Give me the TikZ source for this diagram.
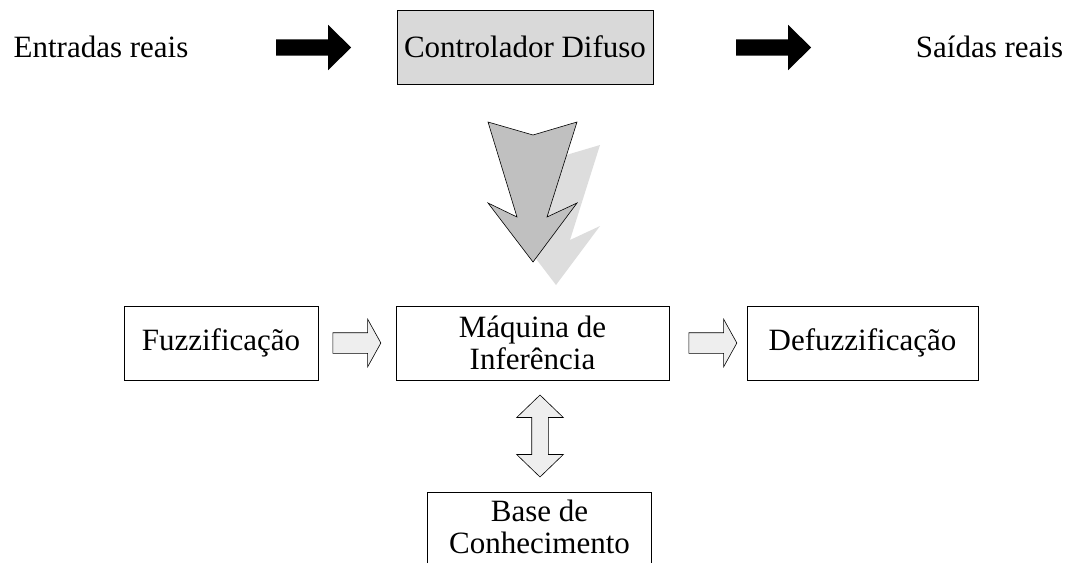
\documentclass[tikz,border=0pt]{standalone}
\usepackage{fontspec}
\setmainfont{Liberation Serif}
\usetikzlibrary{calc}
\usetikzlibrary{shapes.arrows}
\definecolor{box-gray}{RGB}{217, 217, 217}
\definecolor{arrow-gray}{RGB}{192, 192, 192}
\definecolor{shadow-gray}{RGB}{221, 221, 221}
\definecolor{light-gray}{RGB}{238, 238, 238}

\begin{document}
\begin{tikzpicture}[x=1pt, y=-1pt,
    font=\fontsize{31}{32}\selectfont,
    box/.style={draw=black, line width=0.8pt, inner sep=0pt, align=center},
    blackarrow/.style={single arrow, fill=black, inner sep=0pt, inner ysep=8pt,
        minimum height=75pt, single arrow head extend=14.5pt, single arrow tip angle=89},
    flowarrow/.style={single arrow, draw=black, fill=light-gray, line width=0.6pt,
        inner sep=0pt, inner ysep=10pt, minimum height=48pt,
        single arrow head extend=13.5pt, single arrow tip angle=122},
    linkarrow/.style={double arrow, draw=black, fill=light-gray, line width=0.6pt,
        inner sep=0pt, inner ysep=8pt, minimum height=82pt,
        double arrow head extend=15pt, double arrow tip angle=92, rotate=90}]
\useasboundingbox (0,0) rectangle (1069,563);

% top row
\node[anchor=base] (in) at (101,57) {Entradas reais};
\node[box, fill=box-gray, minimum width=256pt, minimum height=74pt] (ctrl) at (525,47) {Controlador Difuso};
\node[anchor=base] (out) at (989.5,57) {Saídas reais};
\node[blackarrow] (inarrow) at (309.5,47.5) {};
\node[blackarrow] (outarrow) at (769.5,47.5) {};

% big arrow with its shadow
\coordinate (flow) at (533,122);
\fill[shadow-gray] ($(flow)+(23,23)$) ++(-45,0) -- ++(45,13) -- ++(44,-13) -- ++(-30,95)
    -- ++(30,-14) -- ++(-44,59) -- ++(-45,-59) -- ++(29,14) -- cycle;
\filldraw[fill=arrow-gray, draw=black, line width=0.6pt] (flow) ++(-45,0) -- ++(45,13) -- ++(44,-13) -- ++(-30,95)
    -- ++(30,-14) -- ++(-44,59) -- ++(-45,-59) -- ++(29,14) -- cycle;

% lower row
\node[box, minimum width=194pt, minimum height=74pt] (fuzz) at (221,343) {Fuzzificação};
\node[box, minimum width=273pt, minimum height=74pt] (maq) at (532.5,343) {Máquina de\\Inferência};
\node[box, minimum width=231pt, minimum height=74pt] (defuzz) at (862.5,343) {Defuzzificação};
\node[flowarrow] (fuzzarrow) at (354,343) {};
\node[flowarrow] (defuzzarrow) at (710,343) {};
\node[linkarrow] (link) at (540,436) {};

% knowledge base, cut by the page
\coordinate (pagebottom) at (0,563);
\node[align=center, minimum width=223pt] (base) at (539.5,527) {Base de\\Conhecimento};
\draw[line width=0.8pt] (base.west |- pagebottom) -- (base.west |- 0,492) -- (base.east |- 0,492) -- (base.east |- pagebottom);
\end{tikzpicture}
\end{document}
